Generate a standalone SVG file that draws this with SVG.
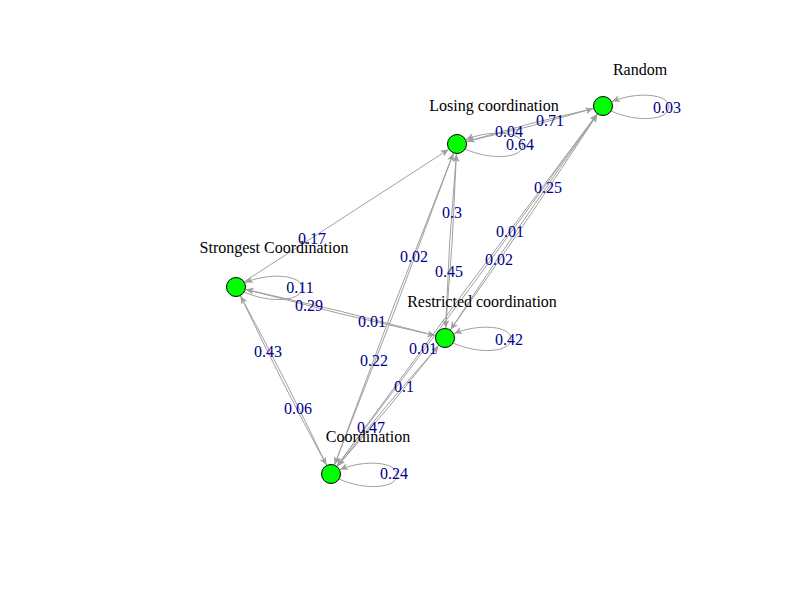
<svg xmlns="http://www.w3.org/2000/svg" width="800" height="600" viewBox="0 0 800 600">
<style>
.e{fill:none;stroke:#A0A0A0;stroke-width:1;marker-end:url(#arr)}
.el{font-family:"Liberation Serif","Times New Roman",serif;font-size:16px;fill:#00008B;text-anchor:middle}
.nl{font-family:"Liberation Serif","Times New Roman",serif;font-size:16px;fill:#000;text-anchor:middle}
.n{fill:#00FF00;stroke:#000;stroke-width:1}
</style>
<defs>
<marker id="arr" markerUnits="userSpaceOnUse" markerWidth="10" markerHeight="8" refX="8" refY="3.5" orient="auto">
<path d="M0,0 L8,3.5 L0,7 L2,3.5 z" fill="#A0A0A0"/>
</marker>
</defs>
<rect width="800" height="600" fill="#fff"/>
<g id="connectors">
<path class="e" d="M593.3,108.5 Q529.4,122.6 466.7,141.5"/>
<path class="e" d="M466.7,141.5 Q530.6,127.4 593.3,108.5"/>
<path class="e" d="M244.4,281.6 L448.6,149.4"/>
<path class="e" d="M245.7,289.4 Q339.9,314.9 435.3,335.6"/>
<path class="e" d="M435.3,335.6 Q341.1,310.1 245.7,289.4"/>
<path class="e" d="M456.4,154.0 Q448.5,240.8 445.6,328.0"/>
<path class="e" d="M445.6,328.0 Q453.5,241.2 456.4,154.0"/>
<path class="e" d="M453.4,153.3 Q391.7,308.1 334.6,464.7"/>
<path class="e" d="M334.6,464.7 Q396.3,309.9 453.4,153.3"/>
<path class="e" d="M597.4,114.3 Q521.9,220.6 450.6,329.7"/>
<path class="e" d="M450.6,329.7 Q526.1,223.4 597.4,114.3"/>
<path class="e" d="M597.1,114.0 Q465.0,288.5 336.9,466.0"/>
<path class="e" d="M336.9,466.0 Q469.0,291.5 597.1,114.0"/>
<path class="e" d="M438.6,345.7 Q386.1,404.4 337.4,466.3"/>
<path class="e" d="M337.4,466.3 Q389.9,407.6 438.6,345.7"/>
<path class="e" d="M240.5,295.9 Q281.3,381.6 326.5,465.1"/>
<path class="e" d="M326.5,465.1 Q285.7,379.4 240.5,295.9"/>
<path class="e" d="M611,111 C638,123 669,120 669,107 C669,94 638,91 612,101.5"/>
<path class="e" d="M465,149 C492,161 523,158 523,145 C523,132 492,129 466,139.5"/>
<path class="e" d="M244,292 C271,304 302,301 302,288 C302,275 271,272 245,282.5"/>
<path class="e" d="M453,343 C480,355 511,352 511,339 C511,326 480,323 454,333.5"/>
<path class="e" d="M339,479 C366,491 397,488 397,475 C397,462 366,459 340,469.5"/>
</g>
<g id="edge-labels">
<text class="el" x="550" y="126">0.71</text>
<text class="el" x="509" y="137">0.04</text>
<text class="el" x="520" y="150">0.64</text>
<text class="el" x="667" y="113">0.03</text>
<text class="el" x="312" y="244">0.17</text>
<text class="el" x="300" y="293">0.11</text>
<text class="el" x="309" y="311">0.29</text>
<text class="el" x="372" y="327">0.01</text>
<text class="el" x="452" y="218">0.3</text>
<text class="el" x="449" y="277">0.45</text>
<text class="el" x="414" y="262">0.02</text>
<text class="el" x="374" y="366">0.22</text>
<text class="el" x="548" y="193">0.25</text>
<text class="el" x="510" y="237">0.01</text>
<text class="el" x="499" y="265">0.02</text>
<text class="el" x="509" y="345">0.42</text>
<text class="el" x="423" y="354">0.01</text>
<text class="el" x="404" y="392">0.1</text>
<text class="el" x="371" y="433">0.47</text>
<text class="el" x="268" y="357">0.43</text>
<text class="el" x="298" y="414">0.06</text>
<text class="el" x="394" y="479">0.24</text>
</g>
<g id="node-random"><circle class="n" cx="603" cy="106" r="9.5"/><text class="nl" x="640" y="75">Random</text></g>
<g id="node-losing"><circle class="n" cx="457" cy="144" r="9.5"/><text class="nl" x="494" y="111">Losing coordination</text></g>
<g id="node-strongest"><circle class="n" cx="236" cy="287" r="9.5"/><text class="nl" x="274" y="253">Strongest Coordination</text></g>
<g id="node-restricted"><circle class="n" cx="445" cy="338" r="9.5"/><text class="nl" x="482" y="307">Restricted coordination</text></g>
<g id="node-coordination"><circle class="n" cx="331" cy="474" r="9.5"/><text class="nl" x="368" y="442">Coordination</text></g>
</svg>
